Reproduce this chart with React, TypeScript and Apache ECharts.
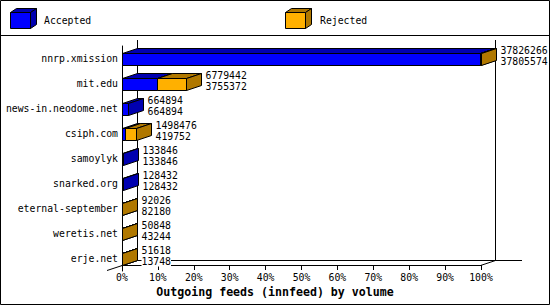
import React, { useEffect, useRef } from "react";
import * as echarts from "echarts";

const categories = [
  "nnrp.xmission",
  "mit.edu",
  "news-in.neodome.net",
  "csiph.com",
  "samoylyk",
  "snarked.org",
  "eternal-september",
  "weretis.net",
  "erje.net",
];
const totals = [37826266, 6779442, 664894, 1498476, 133846, 128432, 92026, 50848, 51618];
const accepted = [37805574, 3755372, 664894, 419752, 133846, 128432, 82180, 43244, 13748];
const seriesNames = ["Accepted", "Rejected"];
const tickLabelSuffix = "%";
const axisTitle = "Outgoing feeds (innfeed) by volume";

const FONT = '"DejaVu Sans Mono", "Liberation Mono", monospace';
const FS = 9.8;
const FRONT = ["#0000ff", "#ffb000"];
const DARK = ["#0000b0", "#b07800"];
const DX = 15;
const DY = -5;

const snap = (v: number) => Math.round(v - 0.5) + 0.5;

export default function App() {
  const ref = useRef<HTMLDivElement>(null);
  useEffect(() => {
    if (!ref.current) return;
    const chart = echarts.init(ref.current, null, { renderer: "svg" });
    const maxTotal = Math.max(...totals);
    const data = categories.map((_, i) => [
      i,
      (accepted[i] / maxTotal) * 100,
      (totals[i] / maxTotal) * 100,
      totals[i],
      accepted[i],
    ]);

    const renderItem = (params: any, api: any) => {
      const i = api.value(0);
      const accPct = api.value(1);
      const totPct = api.value(2);
      const tot = api.value(3);
      const acc = api.value(4);
      const p0 = api.coord([0, i]);
      const pA = api.coord([accPct, i]);
      const pT = api.coord([totPct, i]);
      const cy = p0[1];
      const top = cy - 5;
      const bottom = cy + 7;
      const x0 = snap(p0[0]);
      const xA = snap(pA[0]);
      const xT = snap(pT[0]);
      const segs: any[] = [];
      if (acc > 0) segs.push({ a: x0, b: xA, k: 0 });
      if (tot - acc > 0) segs.push({ a: acc > 0 ? xA : x0, b: xT, k: 1 });
      const children: any[] = [];
      segs.forEach((s) => {
        const st = { stroke: "#000", lineWidth: 1 };
        children.push({
          type: "polygon",
          shape: { points: [[s.a, top], [s.b, top], [s.b, bottom], [s.a, bottom]] },
          style: { ...st, fill: FRONT[s.k] },
        });
        children.push({
          type: "polygon",
          shape: { points: [[s.a, top], [s.a + DX, top + DY], [s.b + DX, top + DY], [s.b, top]] },
          style: { ...st, fill: DARK[s.k] },
        });
        children.push({
          type: "polygon",
          shape: { points: [[s.b, top], [s.b + DX, top + DY], [s.b + DX, bottom + DY], [s.b, bottom]] },
          style: { ...st, fill: DARK[s.k] },
        });
      });
      children.push({
        type: "text",
        x: xT + DX + 4,
        y: cy - 3,
        style: {
          text: `${tot}\n${acc}`,
          fill: "#000",
          fontFamily: FONT,
          fontSize: FS,
          lineHeight: 11,
          align: "left",
          verticalAlign: "middle",
          backgroundColor: "#fff",
        },
      });
      return { type: "group", children };
    };

    const line = (x1: number, y1: number, x2: number, y2: number) => ({
      type: "line",
      shape: { x1, y1, x2, y2 },
      style: { stroke: "#000", lineWidth: 1 },
      silent: true,
    });
    const cube = (x: number, k: number) => {
      const l = x + 0.5, r = x + 20.5, t = 12.5, b = 28.5, dx = 6, dy = -4;
      return [
        { type: "polygon", shape: { points: [[l, t], [r, t], [r, b], [l, b]] }, style: { fill: FRONT[k], stroke: "#000", lineWidth: 1 } },
        { type: "polygon", shape: { points: [[l, t], [l + dx, t + dy], [r + dx, t + dy], [r, t]] }, style: { fill: DARK[k], stroke: "#000", lineWidth: 1 } },
        { type: "polygon", shape: { points: [[r, t], [r + dx, t + dy], [r + dx, b + dy], [r, b]] }, style: { fill: DARK[k], stroke: "#000", lineWidth: 1 } },
      ];
    };

    chart.setOption({
      animation: false,
      title: {
        text: axisTitle,
        left: "center",
        top: 286,
        padding: 0,
        textStyle: { fontFamily: FONT, fontSize: 11.6, fontWeight: "bold", color: "#000" },
      },
      grid: { left: 122, right: 69, top: 46, bottom: 34 },
      xAxis: {
        type: "value",
        min: 0,
        max: 100,
        interval: 10,
        offset: -6,
        axisLine: { show: true, lineStyle: { color: "#000", width: 1 } },
        axisTick: { show: true, length: 5, lineStyle: { color: "#000" } },
        axisLabel: { formatter: "{value}" + tickLabelSuffix, margin: 7, color: "#000", fontFamily: FONT, fontSize: FS },
        splitLine: { show: false },
      },
      yAxis: {
        type: "category",
        data: categories,
        inverse: true,
        axisLine: { show: true, lineStyle: { color: "#000", width: 1 } },
        axisTick: { show: false },
        axisLabel: { margin: 4, color: "#000", fontFamily: FONT, fontSize: FS },
        splitLine: { show: false },
      },
      graphic: [
        { type: "rect", shape: { x: 0.5, y: 0.5, width: 549, height: 304 }, style: { fill: "none", stroke: "#000", lineWidth: 1 }, silent: true, z: 10 },
        line(0, 35.5, 550, 35.5),
        line(137.5, 40, 137.5, 260.5),
        line(495.5, 40, 495.5, 260.5),
        line(137.5, 260.5, 522, 260.5),
        line(107, 270.5, 137.5, 260.5),
        line(480.5, 265.5, 495.5, 260.5),
        ...cube(10, 0),
        ...cube(285, 1),
        { type: "text", x: 44, y: 20, style: { text: seriesNames[0], fill: "#000", fontFamily: FONT, fontSize: FS, verticalAlign: "middle" } },
        { type: "text", x: 320, y: 20, style: { text: seriesNames[1], fill: "#000", fontFamily: FONT, fontSize: FS, verticalAlign: "middle" } },
      ],
      series: [
        {
          type: "custom",
          name: "feeds",
          renderItem,
          data,
          encode: { x: [1, 2], y: 0 },
          clip: false,
          z: 5,
        },
      ],
    });
    return () => chart.dispose();
  }, []);
  return (
    <div
      ref={ref}
      style={{ position: "fixed", left: 0, top: 0, width: 550, height: 305, background: "#fff" }}
    />
  );
}
